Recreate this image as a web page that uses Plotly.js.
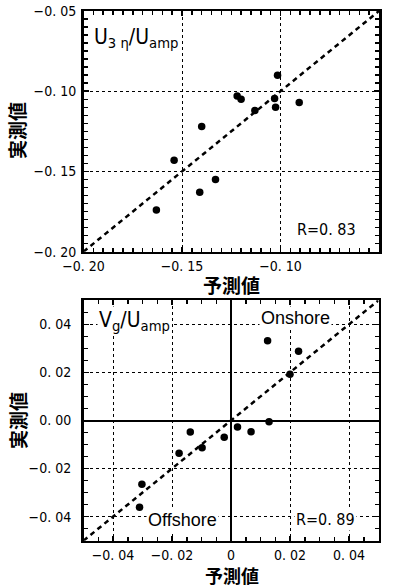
<!DOCTYPE html>
<html>
<head>
<meta charset="utf-8">
<script src="https://cdn.plot.ly/plotly-3.0.1.min.js"></script>
<style>
  html, body { margin: 0; padding: 0; background: #fff; }
  #chart { width: 399px; height: 588px; }
</style>
</head>
<body>
<div id="chart"></div>
<script>
// U3η / Uamp : predicted vs. measured
const u3Predicted = [-0.163, -0.154, -0.141, -0.140, -0.133, -0.122, -0.120, -0.113, -0.1015, -0.103, -0.1025, -0.0905];
const u3Measured  = [-0.174, -0.143, -0.163, -0.122, -0.155, -0.103, -0.105, -0.112, -0.090, -0.1045, -0.110, -0.107];

// Vg / Uamp : predicted vs. measured
const vgPredicted = [-0.0310, -0.0302, -0.0176, -0.0138, -0.0098, -0.0023, 0.0022, 0.0068, 0.0129, 0.0124, 0.0200, 0.0229];
const vgMeasured  = [-0.0361, -0.0265, -0.0136, -0.0048, -0.0113, -0.0070, -0.0027, -0.0047, -0.0005, 0.0332, 0.0192, 0.0288];

// axis ranges, tick spacing and tick label spellings
const u3Range = [-0.20, -0.05];
const u3Dtick = 0.05;
const vgRange = [-0.05, 0.05];
const vgDtick = 0.02;
const minorDtick = 0.005;

const u3Labels = { '−0.20': '−0. 20', '−0.15': '−0. 15', '−0.10': '−0. 10', '−0.05': '−0. 05' };
const vgYLabels = { '−0.04': '−0. 04', '−0.02': '−0. 02', '0.00': '0. 00', '0.02': '0. 02', '0.04': '0. 04' };
const vgXLabels = { '−0.04': '−0. 04', '−0.02': '−0. 02', '0.00': '0', '0.02': '0. 02', '0.04': '0. 04' };

const rTop = 'R=0. 83';
const rBottom = 'R=0. 89';
const xTitle = '予測値';
const yTitle = '実測値';

const W = 399, H = 588;
const numFamily = '"DejaVu Sans Condensed", "Liberation Sans Narrow", "Liberation Sans", sans-serif';
const numFont = { family: numFamily, size: 14, color: '#000' };
const jpFont = { family: '"Noto Sans CJK JP", sans-serif', size: 19, color: '#000', weight: 'bold' };
const jpFontLow = { family: '"Noto Sans CJK JP", sans-serif', size: 18, color: '#000', weight: 'bold' };
const labelFont = { family: numFamily, size: 21, color: '#000' };
const wordFont = { family: '"Liberation Sans", sans-serif', size: 18, color: '#000' };

function px2x(px) { return px / W; }
function px2y(py) { return 1 - py / H; }

function axisBase(extra) {
  return Object.assign({
    showline: true, linecolor: '#000', linewidth: 2.5, mirror: 'allticks',
    ticks: 'inside', ticklen: 5, tickwidth: 1.5, tickcolor: '#000',
    showgrid: true, gridcolor: '#000', gridwidth: 1, griddash: 'dot',
    zeroline: false, tickfont: numFont, tickmode: 'linear', tickformat: '.2f',
    minor: { ticks: 'inside', dtick: minorDtick, ticklen: 4, tickwidth: 1.5, tickcolor: '#000', showgrid: false },
    fixedrange: true
  }, extra);
}

const markerStyle = { color: '#000', size: 7.5, line: { width: 0 } };
const diagStyle = { color: '#000', width: 2.5, dash: '5px,4px' };

const traces = [
  { x: u3Range, y: u3Range, xaxis: 'x', yaxis: 'y', mode: 'lines', line: diagStyle, hoverinfo: 'skip' },
  { x: u3Predicted, y: u3Measured, xaxis: 'x', yaxis: 'y', mode: 'markers', marker: markerStyle },
  { x: vgRange, y: vgRange, xaxis: 'x2', yaxis: 'y2', mode: 'lines', line: diagStyle, hoverinfo: 'skip' },
  { x: vgPredicted, y: vgMeasured, xaxis: 'x2', yaxis: 'y2', mode: 'markers', marker: markerStyle }
];

const layout = {
  width: W, height: H,
  margin: { l: 0, r: 0, t: 0, b: 0 },
  paper_bgcolor: '#fff', plot_bgcolor: '#fff',
  showlegend: false,
  xaxis: axisBase({
    domain: [px2x(83.5), px2x(379)], range: u3Range, anchor: 'y',
    tick0: u3Range[0], dtick: u3Dtick, labelalias: u3Labels, ticklabelstandoff: 0
  }),
  yaxis: axisBase({
    domain: [px2y(251.7), px2y(11)], range: u3Range, anchor: 'x',
    tick0: u3Range[0], dtick: u3Dtick, labelalias: u3Labels, ticklabelstandoff: 2
  }),
  xaxis2: axisBase({
    domain: [px2x(83.5), px2x(378.5)], range: vgRange, anchor: 'y2',
    tick0: 0, dtick: vgDtick, labelalias: vgXLabels, ticklabelstandoff: 0,
    zeroline: true, zerolinecolor: '#000', zerolinewidth: 2
  }),
  yaxis2: axisBase({
    domain: [px2y(540.7), px2y(300.3)], range: vgRange, anchor: 'x2',
    tick0: 0, dtick: vgDtick, labelalias: vgYLabels, ticklabelstandoff: 7,
    zeroline: true, zerolinecolor: '#000', zerolinewidth: 2
  }),
  annotations: [
    // axis titles
    { text: xTitle, xref: 'paper', yref: 'paper', x: px2x(231), y: px2y(284), xanchor: 'center', yanchor: 'middle', showarrow: false, font: jpFont },
    { text: yTitle, xref: 'paper', yref: 'paper', x: px2x(17), y: px2y(131), xanchor: 'center', yanchor: 'middle', showarrow: false, font: jpFont, textangle: -90 },
    { text: xTitle, xref: 'paper', yref: 'paper', x: px2x(232), y: px2y(575), xanchor: 'center', yanchor: 'middle', showarrow: false, font: jpFontLow, borderpad: 0 },
    { text: yTitle, xref: 'paper', yref: 'paper', x: px2x(17), y: px2y(421), xanchor: 'center', yanchor: 'middle', showarrow: false, font: jpFont, textangle: -90 },
    // panel labels
    { text: 'U<sub>3 η</sub>/U<sub>amp</sub>', xref: 'x domain', yref: 'y domain', x: 0.03, y: 0.95, xanchor: 'left', yanchor: 'top', showarrow: false, font: labelFont },
    { text: 'V<sub>g</sub>/U<sub>amp</sub>', xref: 'x2 domain', yref: 'y2 domain', x: 0.045, y: 0.915, xanchor: 'left', yanchor: 'middle', showarrow: false, font: labelFont, bgcolor: '#fff' },
    { text: 'Onshore', xref: 'x2', yref: 'y2', x: 0.0217, y: 0.0426, xanchor: 'center', yanchor: 'middle', showarrow: false, font: wordFont, bgcolor: '#fff' },
    { text: 'Offshore', xref: 'x2', yref: 'y2', x: -0.0166, y: -0.0414, xanchor: 'center', yanchor: 'middle', showarrow: false, font: wordFont, bgcolor: '#fff' },
    // correlation coefficients
    { text: rTop, xref: 'x', yref: 'y', x: -0.0764, y: -0.1864, xanchor: 'center', yanchor: 'middle', showarrow: false, font: { family: numFamily, size: 16, color: '#000' } },
    { text: rBottom, xref: 'x2', yref: 'y2', x: 0.0322, y: -0.0410, xanchor: 'center', yanchor: 'middle', showarrow: false, font: { family: numFamily, size: 16, color: '#000' }, bgcolor: '#fff' }
  ]
};

Plotly.newPlot('chart', traces, layout, { staticPlot: true, displayModeBar: false });
</script>
</body>
</html>
